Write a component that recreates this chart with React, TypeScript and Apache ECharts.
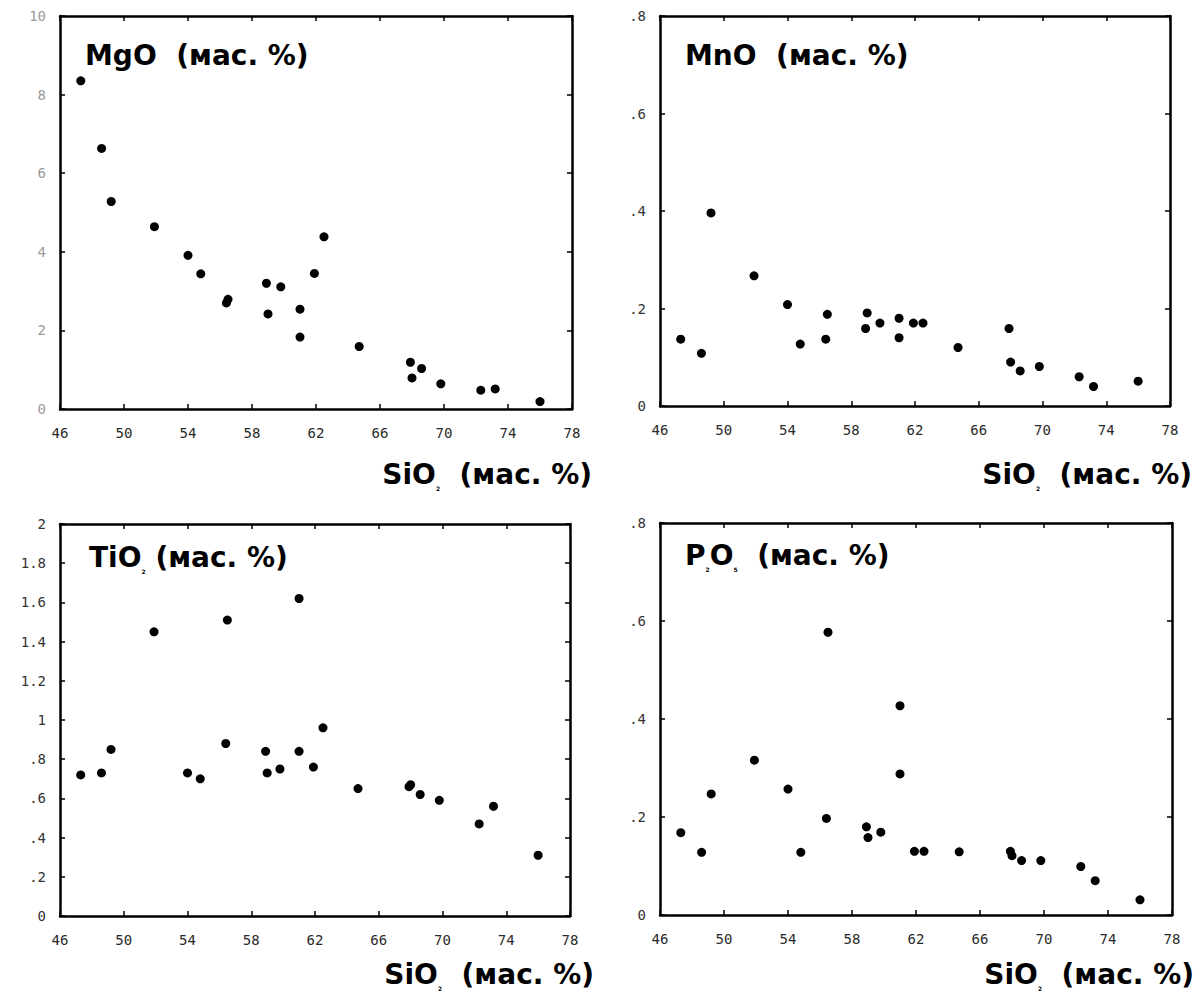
import React, { useEffect, useRef } from "react";
import * as echarts from "echarts";

// SiO2 (мас. %) for each of the 23 samples
const SIO2 = [47.3, 48.6, 49.2, 51.9, 54.0, 54.8, 56.4, 56.5, 58.9, 59.0, 59.8, 61.0, 61.0, 61.9, 62.5, 64.7, 67.9, 68.0, 68.6, 69.8, 72.3, 73.2, 76.0];
const MGO = [8.35, 6.63, 5.28, 4.64, 3.91, 3.44, 2.70, 2.79, 3.20, 2.42, 3.11, 2.54, 1.83, 3.45, 4.38, 1.59, 1.19, 0.79, 1.03, 0.64, 0.48, 0.51, 0.19];
const MNO = [0.137, 0.108, 0.396, 0.267, 0.208, 0.127, 0.137, 0.188, 0.159, 0.191, 0.170, 0.180, 0.140, 0.170, 0.170, 0.120, 0.159, 0.090, 0.072, 0.081, 0.060, 0.040, 0.051];
const TIO2 = [0.72, 0.73, 0.85, 1.45, 0.73, 0.70, 0.88, 1.51, 0.84, 0.73, 0.75, 0.84, 1.62, 0.76, 0.96, 0.65, 0.66, 0.67, 0.62, 0.59, 0.47, 0.56, 0.31];
const P2O5 = [0.168, 0.128, 0.247, 0.316, 0.257, 0.128, 0.197, 0.577, 0.180, 0.158, 0.169, 0.427, 0.288, 0.130, 0.130, 0.129, 0.130, 0.121, 0.111, 0.111, 0.099, 0.070, 0.031];

// tick labels
const X_TICK_LABELS = ["46", "50", "54", "58", "62", "66", "70", "74", "78"];
const MGO_Y_LABELS = ["0", "2", "4", "6", "8", "10"];
const MNO_Y_LABELS = ["0", ".2", ".4", ".6", ".8"];
const TIO2_Y_LABELS = ["0", ".2", ".4", ".6", ".8", "1", "1.2", "1.4", "1.6", "1.8", "2"];
const P2O5_Y_LABELS = ["0", ".2", ".4", ".6", ".8"];

const X_MIN = 46;
const X_MAX = 78;
const X_STEP = 4;

type Panel = {
  values: number[];
  yLabels: string[];
  yStep: number;
  grid: { left: number; top: number; width: number; height: number };
  yLabelColor: string;
  title: { parts: [string, string][]; x: number; y: number };
  xName: { x: number; y: number };
};

const PANELS: Panel[] = [
  {
    values: MGO,
    yLabels: MGO_Y_LABELS,
    yStep: 2,
    grid: { left: 60, top: 16, width: 512, height: 393 },
    yLabelColor: "#9a9a9a",
    title: { parts: [["b", "MgO  (мас. %)"]], x: 85, y: 55 },
    xName: { x: 592, y: 474 },
  },
  {
    values: MNO,
    yLabels: MNO_Y_LABELS,
    yStep: 0.2,
    grid: { left: 660, top: 16, width: 510, height: 390 },
    yLabelColor: "#333",
    title: { parts: [["b", "MnO  (мас. %)"]], x: 685, y: 55 },
    xName: { x: 1192, y: 474 },
  },
  {
    values: TIO2,
    yLabels: TIO2_Y_LABELS,
    yStep: 0.2,
    grid: { left: 60, top: 524, width: 510, height: 392 },
    yLabelColor: "#333",
    title: { parts: [["b", "TiO"], ["s", "2"], ["b", " (мас. %)"]], x: 89, y: 557 },
    xName: { x: 594, y: 974 },
  },
  {
    values: P2O5,
    yLabels: P2O5_Y_LABELS,
    yStep: 0.2,
    grid: { left: 660, top: 523, width: 512, height: 392 },
    yLabelColor: "#333",
    title: { parts: [["b", "P"], ["s", "2"], ["b", "O"], ["s", "5"], ["b", "  (мас. %)"]], x: 685, y: 555 },
    xName: { x: 1194, y: 974 },
  },
];

const TITLE_FONT = "DejaVu Sans";
const TICK_FONT = "DejaVu Sans Mono";

const richStyles = {
  b: {
    fontFamily: TITLE_FONT,
    fontWeight: "bold" as const,
    fontSize: 28,
    lineHeight: 34,
    color: "#000",
  },
  s: {
    fontFamily: TITLE_FONT,
    fontWeight: "bold" as const,
    fontSize: 6,
    lineHeight: 8,
    verticalAlign: "bottom" as const,
    color: "#000",
  },
};

function richText(parts: [string, string][]) {
  return parts.map(([k, t]) => `{${k}|${t}}`).join("");
}

export default function App() {
  const ref = useRef<HTMLDivElement>(null);

  useEffect(() => {
    if (!ref.current) return;
    const chart = echarts.init(ref.current, null, { renderer: "svg" });

    const grids: any[] = [];
    const xAxes: any[] = [];
    const yAxes: any[] = [];
    const series: any[] = [];
    const graphics: any[] = [];

    const lineStyle = { color: "#000", width: 2.5 };
    const tickStyle = { color: "#000", width: 1.5 };

    PANELS.forEach((p, i) => {
      const yMax = p.yStep * (p.yLabels.length - 1);
      grids.push({ ...p.grid, containLabel: false, show: false });

      xAxes.push({
        type: "value",
        gridIndex: i,
        position: "bottom",
        min: X_MIN,
        max: X_MAX,
        interval: X_STEP,
        axisLine: { show: true, onZero: false, lineStyle },
        axisTick: { show: true, inside: true, length: 5, lineStyle: tickStyle },
        axisLabel: {
          show: true,
          margin: 17,
          fontFamily: TICK_FONT,
          fontSize: 14,
          color: "#2a2a2a",
          formatter: (v: number) => X_TICK_LABELS[Math.round((v - X_MIN) / X_STEP)] ?? "",
        },
        splitLine: { show: false },
      });
      xAxes.push({
        type: "value",
        gridIndex: i,
        position: "top",
        min: X_MIN,
        max: X_MAX,
        interval: X_STEP,
        axisLine: { show: true, onZero: false, lineStyle },
        axisTick: { show: true, inside: true, length: 5, lineStyle: tickStyle },
        axisLabel: { show: false },
        splitLine: { show: false },
      });
      yAxes.push({
        type: "value",
        gridIndex: i,
        position: "left",
        min: 0,
        max: yMax,
        interval: p.yStep,
        axisLine: { show: true, onZero: false, lineStyle },
        axisTick: { show: true, inside: true, length: 5, lineStyle: tickStyle },
        axisLabel: {
          show: true,
          margin: 14,
          fontFamily: TICK_FONT,
          fontSize: 14,
          color: p.yLabelColor,
          formatter: (v: number) => p.yLabels[Math.round(v / p.yStep)] ?? "",
        },
        splitLine: { show: false },
      });
      yAxes.push({
        type: "value",
        gridIndex: i,
        position: "right",
        min: 0,
        max: yMax,
        interval: p.yStep,
        axisLine: { show: true, onZero: false, lineStyle },
        axisTick: { show: true, inside: true, length: 5, lineStyle: tickStyle },
        axisLabel: { show: false },
        splitLine: { show: false },
      });

      series.push({
        type: "scatter",
        xAxisIndex: 2 * i,
        yAxisIndex: 2 * i,
        symbol: "circle",
        symbolSize: 9,
        itemStyle: { color: "#000", opacity: 1 },
        data: SIO2.map((x, k) => [x, p.values[k]]),
      });

      graphics.push({
        type: "text",
        x: p.title.x,
        y: p.title.y,
        style: {
          text: richText(p.title.parts),
          rich: richStyles,
          align: "left",
          verticalAlign: "middle",
        },
      });
      graphics.push({
        type: "text",
        x: p.xName.x,
        y: p.xName.y,
        style: {
          text: richText([["b", "SiO"], ["s", "2"], ["b", "  (мас. %)"]]),
          rich: richStyles,
          align: "right",
          verticalAlign: "middle",
        },
      });
    });

    chart.setOption({
      animation: false,
      backgroundColor: "#fff",
      grid: grids,
      xAxis: xAxes,
      yAxis: yAxes,
      series,
      graphic: graphics,
    });

    return () => chart.dispose();
  }, []);

  return (
    <div
      ref={ref}
      style={{ position: "fixed", left: 0, top: 0, width: 1196, height: 993 }}
    />
  );
}
